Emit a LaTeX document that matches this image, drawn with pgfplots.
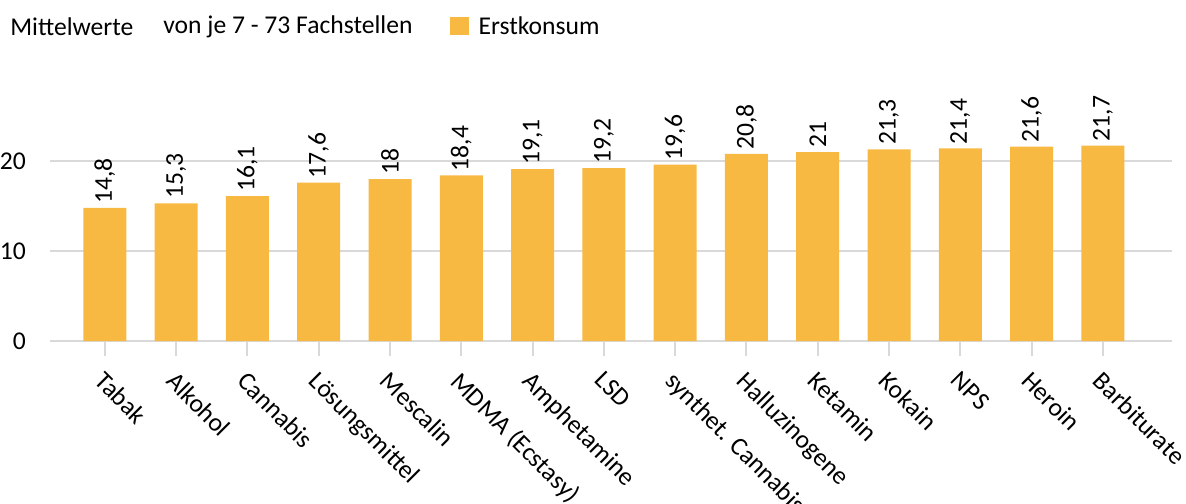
\documentclass[border=0pt]{standalone}
\usepackage{pgfplots}
\pgfplotsset{compat=1.18}
\usepackage{fontspec}
\setmainfont{Carlito}
\definecolor{barorange}{RGB}{248,185,67}
\definecolor{gridgray}{RGB}{217,217,217}

\begin{document}
\begin{tikzpicture}
\begin{axis}[
    scale only axis,
    width=561pt, height=112.5pt,
    xmin=-0.77, xmax=14.97,
    ymin=0, ymax=25,
    ytick={0,10,20},
    xtick=data,
    xticklabels={Tabak, Alkohol, Cannabis, Lösungsmittel, Mescalin, MDMA (Ecstasy), Amphetamine, LSD, synthet. Cannabis, Halluzinogene, Ketamin, Kokain, NPS, Heroin, Barbiturate},
    xticklabel style={rotate=-45, anchor=north west, xshift=2pt, yshift=-1pt},
    yticklabel style={xshift=-1pt},
    font=\fontsize{12.8}{15}\selectfont,
    /pgf/number format/assume math mode=true,
    axis line style={draw=none},
    ymajorgrids,
    grid style={gridgray, line width=1pt},
    xtick pos=left,
    tick align=outside,
    major tick length=7.5pt,
    xtick style={gridgray, line width=1pt},
    ytick style={draw=none},
    clip=false,
    ybar,
    bar width=21.5pt,
    nodes near coords,
    nodes near coords style={rotate=90, anchor=west, font=\fontsize{12.8}{15}\selectfont, inner sep=2pt},
    /pgf/number format/use comma,
    legend style={at={(rel axis cs:0.3565,1.396)}, anchor=west, draw=none, fill=none,
        font=\fontsize{12.8}{15}\selectfont, inner sep=0pt},
    legend image code/.code={\fill[barorange] (0cm,-0.14cm) rectangle (0.32cm,0.18cm);},
    legend cell align=left,
    legend style={/tikz/every even column/.append style={column sep=0pt}},
    legend style={nodes={inner xsep=5pt}},
]
\addplot[fill=barorange, draw=none] coordinates {
    (0,14.8) (1,15.3) (2,16.1) (3,17.6) (4,18) (5,18.4) (6,19.1) (7,19.2)
    (8,19.6) (9,20.8) (10,21) (11,21.3) (12,21.4) (13,21.6) (14,21.7)
};
\addlegendentry{Erstkonsum}
\node[anchor=west, inner sep=0pt] at (rel axis cs:-0.0357,1.396) {Mittelwerte};
\node[anchor=west, inner sep=0pt] at (rel axis cs:0.1007,1.396) {von je 7 - 73 Fachstellen};
\coordinate (bl) at (rel axis cs:-0.04456,-0.72);
\coordinate (tr) at (rel axis cs:1.01248,1.5156);
\end{axis}
\pgfresetboundingbox
\useasboundingbox (bl) rectangle (tr);
\end{tikzpicture}
\end{document}
